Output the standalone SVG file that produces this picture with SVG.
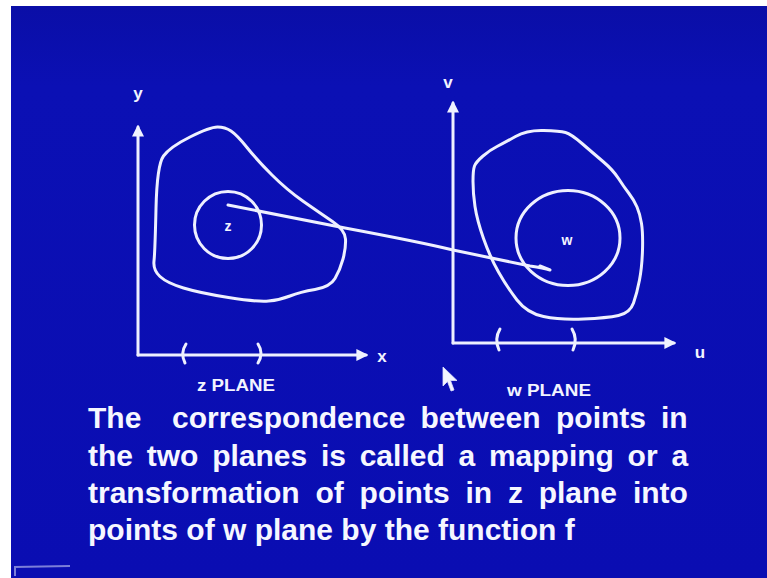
<svg xmlns="http://www.w3.org/2000/svg" width="767" height="578" viewBox="0 0 767 578">
<defs>
<linearGradient id="bg" x1="0" y1="0" x2="0" y2="1">
<stop offset="0" stop-color="#0a0ea6"/>
<stop offset="0.15" stop-color="#0b10b4"/>
<stop offset="1" stop-color="#0a0db2"/>
</linearGradient>
<marker id="ah" viewBox="0 0 10 10" refX="8" refY="5" markerWidth="4" markerHeight="4" orient="auto-start-reverse" markerUnits="strokeWidth">
<path d="M0,0 L10,5 L0,10 Z" fill="#f0f2ff"/>
</marker>
<style>
.ln{fill:none;stroke:#eef0ff;stroke-width:3;stroke-linecap:round;stroke-linejoin:round}
.ax{fill:none;stroke:#eef0ff;stroke-width:3;stroke-linecap:round}
.lbl{font-family:"Liberation Sans",Arial,sans-serif;font-weight:bold;fill:#f2f4ff}
.body{font-family:"Liberation Sans",Arial,sans-serif;font-weight:bold;font-size:30px;fill:#f6f7ff}
</style>
</defs>
<rect x="0" y="0" width="767" height="578" fill="url(#bg)"/>
<rect x="0" y="0" width="11" height="578" fill="#ffffff"/>
<rect x="0" y="0" width="767" height="6" fill="#ffffff"/>
<g id="logo" stroke="#c8ccf4" stroke-width="2" fill="none" opacity="0.6">
<path d="M14,567 L70,566"/>
<path d="M15,567 L15,576"/>
</g>

<g id="z-plane">
<path class="ax" d="M138,355 L138,127" marker-end="url(#ah)"/>
<path class="ax" d="M138,355 L366,355" marker-end="url(#ah)"/>
<text class="lbl" x="138" y="99" font-size="17" text-anchor="middle">y</text>
<text class="lbl" x="382" y="362" font-size="17" text-anchor="middle">x</text>
<path class="ln" d="M186,344 Q180,353 185,363"/>
<path class="ln" d="M258,344 Q264,353 258,363"/>
<text class="lbl" x="197" y="391" font-size="16" textLength="78" lengthAdjust="spacingAndGlyphs">z PLANE</text>
</g>

<g id="z-region">
<path class="ln" d="M156,208.5 Q157,165 163.5,156 Q170,147 190,137 Q210,127 217.5,127 Q225,127 231,131 Q237,135 247,147.5 Q257,160 272,175 Q287,190 303.5,201.5 Q320,213 332.5,221.5 Q345,230 345.5,239 Q346,248 343,259 Q340,270 335,278.5 Q330,287 315,289.5 Q300,292 290,296 Q280,300 268.5,301 Q257,302 228.5,297.5 Q200,293 183.5,288 Q167,283 160,276.5 Q153,270 154,261 Q155,252 156,208.5 Z"/>
</g>

<g id="z-point">
<circle class="ln" cx="228" cy="225" r="33.5"/>
<text class="lbl" x="228" y="231" font-size="14" text-anchor="middle" font-weight="normal">z</text>
</g>

<g id="w-plane">
<path class="ax" d="M453,343 L453,103" marker-end="url(#ah)"/>
<path class="ax" d="M453,343 L674,343" marker-end="url(#ah)"/>
<text class="lbl" x="448" y="88" font-size="17" text-anchor="middle">v</text>
<text class="lbl" x="700" y="358" font-size="17" text-anchor="middle">u</text>
<path class="ln" d="M500,329 Q494,339 499,350"/>
<path class="ln" d="M572,329 Q578,339 573,350"/>
<text class="lbl" x="507" y="396" font-size="16" textLength="84" lengthAdjust="spacingAndGlyphs">w PLANE</text>
</g>

<g id="w-region">
<path class="ln" d="M473,181.5 Q473,170 474.5,166 Q476,162 483,156 Q490,150 497,146.5 Q504,143 515.5,136.5 Q527,130 543.5,130.5 Q560,131 565.5,132.5 Q571,134 582,143.5 Q593,153 603,161.5 Q613,170 618.5,178.5 Q624,187 629,193.5 Q634,200 637,207 Q640,214 641.5,223.5 Q643,233 642.5,250 Q642,267 639.5,280 Q637,293 633.5,303 Q630,313 618.5,315.5 Q607,318 583.5,319 Q560,320 543.5,316.5 Q527,313 517,300 Q507,287 498.5,272 Q490,257 483.5,238.5 Q477,220 475,206.5 Q473,193 473,181.5 Z"/>
</g>

<g id="w-point">
<ellipse class="ln" cx="568" cy="238" rx="52" ry="47.5"/>
<text class="lbl" x="567" y="245" font-size="14" text-anchor="middle">w</text>
</g>

<g id="connectors">
<path class="ln" d="M228,205 L345,228 Q420,242 453,250 L530,266 Q544,268 550,270 L540,266"/>
</g>

<g id="cursor">
<path d="M443,367 L443,386 L447.5,381.5 L451,391 L454,390 L450.5,380.5 L457,380.5 Z" fill="#f4f6ff" stroke="#dfe3ff" stroke-width="0.8"/>
</g>

<g id="caption" class="body">
<text y="428"><tspan x="88">The</tspan><tspan x="172">correspondence</tspan><tspan x="420.5">between</tspan><tspan x="556">points</tspan><tspan x="661">in</tspan></text>
<text y="466"><tspan x="88">the</tspan><tspan x="146.7">two</tspan><tspan x="212.2">planes</tspan><tspan x="321">is</tspan><tspan x="359.7">called</tspan><tspan x="458.4">a</tspan><tspan x="488.9">mapping</tspan><tspan x="627.6">or</tspan><tspan x="671.4">a</tspan></text>
<text y="503"><tspan x="88">transformation</tspan><tspan x="315.5">of</tspan><tspan x="359.6">points</tspan><tspan x="465.4">in</tspan><tspan x="507.9">z</tspan><tspan x="538.7">plane</tspan><tspan x="632.9">into</tspan></text>
<text y="540" x="88">points of w plane by the function f</text>
</g>
</svg>
